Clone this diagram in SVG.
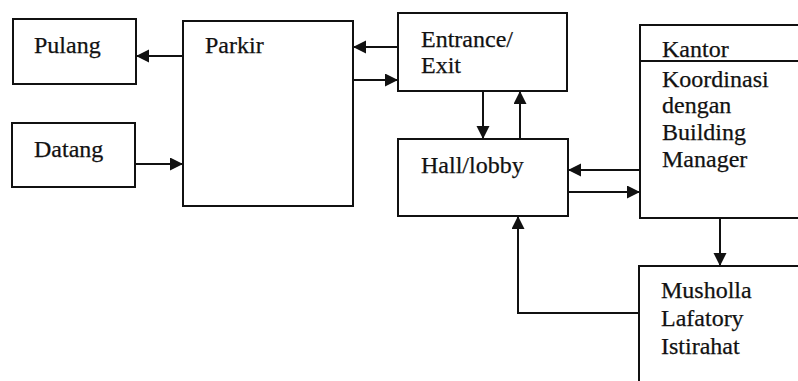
<svg xmlns="http://www.w3.org/2000/svg" width="798" height="381" viewBox="0 0 798 381">
  <defs>
    <marker id="arrow" markerUnits="userSpaceOnUse" markerWidth="14" markerHeight="14" refX="13" refY="6.5" orient="auto">
      <path d="M0,0 L13,6.5 L0,13 z" fill="#111"/>
    </marker>
  </defs>
  <style>
    .box { fill: #fff; stroke: #111; stroke-width: 2; }
    .lbl { font-family: 'Liberation Serif', 'Times New Roman', serif; font-size: 24px; fill: #111; stroke: #111; stroke-width: 0.25; }
    .link { fill: none; stroke: #111; stroke-width: 2; marker-end: url(#arrow); }
  </style>
  <rect width="798" height="381" fill="#fff"/>

  <g id="pulang">
    <rect class="box" x="13" y="19" width="123" height="65"/>
    <text class="lbl" x="34" y="53">Pulang</text>
  </g>
  <g id="datang">
    <rect class="box" x="12" y="123" width="123" height="64"/>
    <text class="lbl" x="34" y="157">Datang</text>
  </g>
  <g id="parkir">
    <rect class="box" x="183" y="21" width="170" height="185"/>
    <text class="lbl" x="205" y="53">Parkir</text>
  </g>
  <g id="entrance">
    <rect class="box" x="398" y="13" width="169" height="78"/>
    <text class="lbl" x="421" y="47">Entrance/</text>
    <text class="lbl" x="421" y="73">Exit</text>
  </g>
  <g id="hall">
    <rect class="box" x="398" y="139" width="170" height="77"/>
    <text class="lbl" x="421" y="173">Hall/lobby</text>
  </g>
  <g id="kantor">
    <rect class="box" x="640" y="25" width="170" height="193"/>
    <line x1="640" y1="61" x2="810" y2="61" stroke="#111" stroke-width="2"/>
    <text class="lbl" x="662" y="57">Kantor</text>
    <text class="lbl" x="662" y="87">Koordinasi</text>
    <text class="lbl" x="662" y="113">dengan</text>
    <text class="lbl" x="662" y="140">Building</text>
    <text class="lbl" x="662" y="167">Manager</text>
  </g>
  <g id="musholla">
    <rect class="box" x="639" y="266" width="171" height="130"/>
    <text class="lbl" x="661" y="298">Musholla</text>
    <text class="lbl" x="661" y="326">Lafatory</text>
    <text class="lbl" x="661" y="354">Istirahat</text>
  </g>

  <g id="connectors">
    <line class="link" x1="183" y1="56" x2="136" y2="56"/>
    <line class="link" x1="135" y1="164" x2="183" y2="164"/>
    <line class="link" x1="398" y1="47" x2="353" y2="47"/>
    <line class="link" x1="353" y1="80" x2="398" y2="80"/>
    <line class="link" x1="483" y1="91" x2="483" y2="139"/>
    <line class="link" x1="520" y1="139" x2="520" y2="91"/>
    <line class="link" x1="640" y1="170" x2="568" y2="170"/>
    <line class="link" x1="568" y1="192" x2="640" y2="192"/>
    <line class="link" x1="720" y1="218" x2="720" y2="266"/>
    <polyline class="link" points="639,313 518,313 518,216"/>
  </g>
</svg>
